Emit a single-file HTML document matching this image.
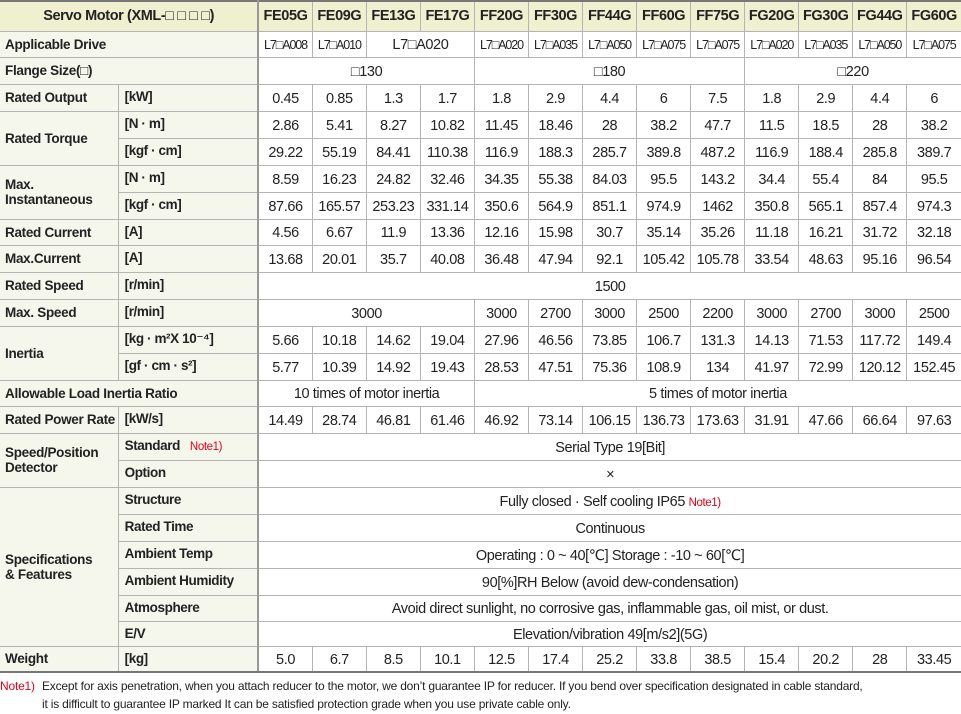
<!DOCTYPE html>
<html><head><meta charset="utf-8"><style>
body{margin:0;background:#fff;width:961px;height:714px;overflow:hidden;font-family:"Liberation Sans","DejaVu Sans",sans-serif;color:#222}
table{border-collapse:collapse;table-layout:fixed;position:absolute;left:0;top:0;width:961px}
td{border:1px solid #b4b4b4;padding:0;text-align:center;font-size:14.5px;letter-spacing:-0.4px;white-space:nowrap;overflow:hidden;vertical-align:middle;padding-top:2px}
tr td:first-child{border-left:none}
tr td:last-child{border-right:none}
tr:first-child td{border-top:2px solid #777;font-weight:bold;background:#eef0d0;font-size:14.5px;padding-top:0}
td.l{text-align:left;background:#f5f6ec;font-weight:bold;font-size:13.5px;padding-left:5px;padding-top:0;letter-spacing:-0.3px}
td.u{text-align:left;background:#f5f6ec;font-weight:bold;font-size:13.5px;padding-left:6px;vertical-align:top;padding-top:4px;border-right:2px solid #999}
td.lh{border-right:2px solid #999}
td.d{font-size:12.5px;letter-spacing:-1.1px}
tr.last td{border-bottom:2px solid #777}
.n{color:#e0001a;font-weight:normal;font-size:11.5px;margin-left:10px}
.nn{color:#e0001a;font-size:11.5px}
.foot{position:absolute;left:0;top:677px;font-size:12px;letter-spacing:-0.2px;line-height:18px;color:#222}
.foot .r{color:#e0001a;position:absolute;left:0}
.foot div{padding-left:42px}
</style></head><body>
<table>
<colgroup><col style="width:118px"><col style="width:140px"><col span="13" style="width:54px"></colgroup>
<tr style="height:30px"><td colspan="2" class="lh">Servo Motor (XML-□ □ □ □)</td><td>FE05G</td><td>FE09G</td><td>FE13G</td><td>FE17G</td><td>FF20G</td><td>FF30G</td><td>FF44G</td><td>FF60G</td><td>FF75G</td><td>FG20G</td><td>FG30G</td><td>FG44G</td><td>FG60G</td></tr>
<tr style="height:26px"><td colspan="2" class="l lh">Applicable Drive</td><td class="d">L7□A008</td><td class="d">L7□A010</td><td colspan="2">L7□A020</td><td class="d">L7□A020</td><td class="d">L7□A035</td><td class="d">L7□A050</td><td class="d">L7□A075</td><td class="d">L7□A075</td><td class="d">L7□A020</td><td class="d">L7□A035</td><td class="d">L7□A050</td><td class="d">L7□A075</td></tr>
<tr style="height:27px"><td colspan="2" class="l lh">Flange Size(□)</td><td colspan="4">□130</td><td colspan="5">□180</td><td colspan="4">□220</td></tr>
<tr style="height:27px"><td class="l">Rated Output</td><td class="u">[kW]</td><td>0.45</td><td>0.85</td><td>1.3</td><td>1.7</td><td>1.8</td><td>2.9</td><td>4.4</td><td>6</td><td>7.5</td><td>1.8</td><td>2.9</td><td>4.4</td><td>6</td></tr>
<tr style="height:27px"><td class="l" rowspan="2">Rated Torque</td><td class="u">[N · m]</td><td>2.86</td><td>5.41</td><td>8.27</td><td>10.82</td><td>11.45</td><td>18.46</td><td>28</td><td>38.2</td><td>47.7</td><td>11.5</td><td>18.5</td><td>28</td><td>38.2</td></tr>
<tr style="height:27px"><td class="u">[kgf · cm]</td><td>29.22</td><td>55.19</td><td>84.41</td><td>110.38</td><td>116.9</td><td>188.3</td><td>285.7</td><td>389.8</td><td>487.2</td><td>116.9</td><td>188.4</td><td>285.8</td><td>389.7</td></tr>
<tr style="height:27px"><td class="l" rowspan="2">Max.<br>Instantaneous</td><td class="u">[N · m]</td><td>8.59</td><td>16.23</td><td>24.82</td><td>32.46</td><td>34.35</td><td>55.38</td><td>84.03</td><td>95.5</td><td>143.2</td><td>34.4</td><td>55.4</td><td>84</td><td>95.5</td></tr>
<tr style="height:27px"><td class="u">[kgf · cm]</td><td>87.66</td><td>165.57</td><td>253.23</td><td>331.14</td><td>350.6</td><td>564.9</td><td>851.1</td><td>974.9</td><td>1462</td><td>350.8</td><td>565.1</td><td>857.4</td><td>974.3</td></tr>
<tr style="height:26px"><td class="l">Rated Current</td><td class="u">[A]</td><td>4.56</td><td>6.67</td><td>11.9</td><td>13.36</td><td>12.16</td><td>15.98</td><td>30.7</td><td>35.14</td><td>35.26</td><td>11.18</td><td>16.21</td><td>31.72</td><td>32.18</td></tr>
<tr style="height:27px"><td class="l">Max.Current</td><td class="u">[A]</td><td>13.68</td><td>20.01</td><td>35.7</td><td>40.08</td><td>36.48</td><td>47.94</td><td>92.1</td><td>105.42</td><td>105.78</td><td>33.54</td><td>48.63</td><td>95.16</td><td>96.54</td></tr>
<tr style="height:27px"><td class="l">Rated Speed</td><td class="u">[r/min]</td><td colspan="13">1500</td></tr>
<tr style="height:27px"><td class="l">Max. Speed</td><td class="u">[r/min]</td><td colspan="4">3000</td><td>3000</td><td>2700</td><td>3000</td><td>2500</td><td>2200</td><td>3000</td><td>2700</td><td>3000</td><td>2500</td></tr>
<tr style="height:27px"><td class="l" rowspan="2">Inertia</td><td class="u">[kg · m²X 10⁻⁴]</td><td>5.66</td><td>10.18</td><td>14.62</td><td>19.04</td><td>27.96</td><td>46.56</td><td>73.85</td><td>106.7</td><td>131.3</td><td>14.13</td><td>71.53</td><td>117.72</td><td>149.4</td></tr>
<tr style="height:27px"><td class="u">[gf · cm · s²]</td><td>5.77</td><td>10.39</td><td>14.92</td><td>19.43</td><td>28.53</td><td>47.51</td><td>75.36</td><td>108.9</td><td>134</td><td>41.97</td><td>72.99</td><td>120.12</td><td>152.45</td></tr>
<tr style="height:26px"><td colspan="2" class="l lh">Allowable Load Inertia Ratio</td><td colspan="4">10 times of motor inertia</td><td colspan="9">5 times of motor inertia</td></tr>
<tr style="height:27px"><td class="l">Rated Power Rate</td><td class="u">[kW/s]</td><td>14.49</td><td>28.74</td><td>46.81</td><td>61.46</td><td>46.92</td><td>73.14</td><td>106.15</td><td>136.73</td><td>173.63</td><td>31.91</td><td>47.66</td><td>66.64</td><td>97.63</td></tr>
<tr style="height:27px"><td class="l" rowspan="2">Speed/Position<br>Detector</td><td class="u">Standard<span class="n">Note1)</span></td><td colspan="13">Serial Type 19[Bit]</td></tr>
<tr style="height:27px"><td class="u">Option</td><td colspan="13">×</td></tr>
<tr style="height:27px"><td class="l" rowspan="6">Specifications<br>&amp; Features</td><td class="u">Structure</td><td colspan="13">Fully closed · Self cooling IP65 <span class="nn">Note1)</span></td></tr>
<tr style="height:27px"><td class="u">Rated Time</td><td colspan="13">Continuous</td></tr>
<tr style="height:27px"><td class="u">Ambient Temp</td><td colspan="13">Operating : 0 ~ 40[℃] Storage : -10 ~ 60[℃]</td></tr>
<tr style="height:27px"><td class="u">Ambient Humidity</td><td colspan="13">90[%]RH Below (avoid dew-condensation)</td></tr>
<tr style="height:26px"><td class="u">Atmosphere</td><td colspan="13">Avoid direct sunlight, no corrosive gas, inflammable gas, oil mist, or dust.</td></tr>
<tr style="height:25px"><td class="u">E/V</td><td colspan="13">Elevation/vibration 49[m/s2](5G)</td></tr>
<tr class="last" style="height:26px"><td class="l">Weight</td><td class="u">[kg]</td><td>5.0</td><td>6.7</td><td>8.5</td><td>10.1</td><td>12.5</td><td>17.4</td><td>25.2</td><td>33.8</td><td>38.5</td><td>15.4</td><td>20.2</td><td>28</td><td>33.45</td></tr>
</table>
<div class="foot"><span class="r">Note1)</span><div>Except for axis penetration, when you attach reducer to the motor, we don’t guarantee IP for reducer. If you bend over specification designated in cable standard,<br>it is difficult to guarantee IP marked It can be satisfied protection grade when you use private cable only.</div></div>
</body></html>
